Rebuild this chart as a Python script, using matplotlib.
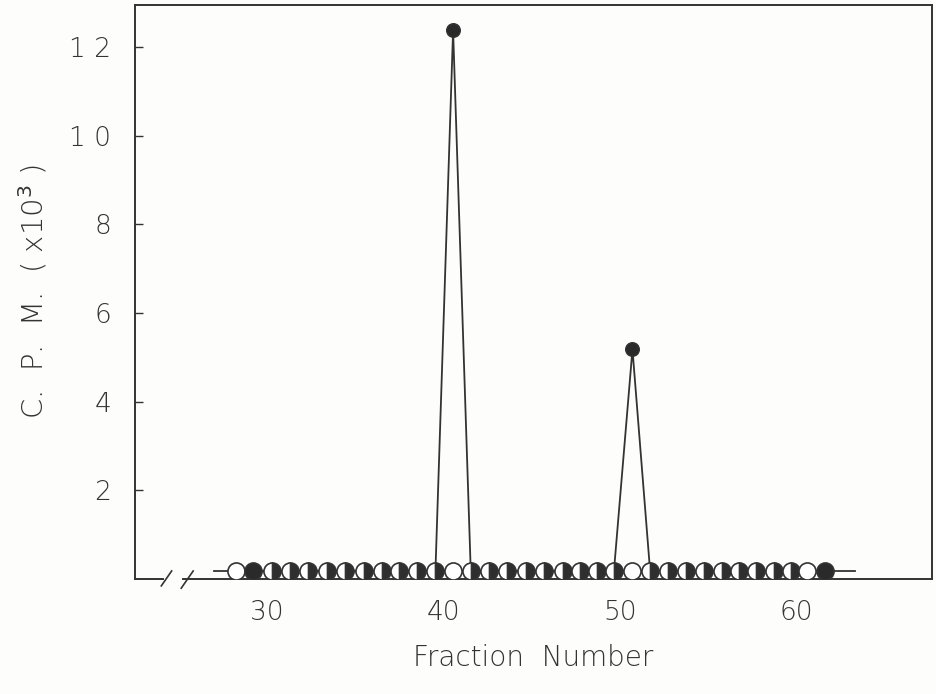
import numpy as np
import matplotlib
matplotlib.use("Agg")
import matplotlib.pyplot as plt

# fraction positions (one circle per fraction)
fractions = [28.25, 29.25, 30.3, 31.3, 32.35, 33.4, 34.45, 35.5, 36.5, 37.5,
             38.5, 39.55, 40.55, 41.55, 42.6, 43.6, 44.65, 45.7, 46.75, 47.75,
             48.7, 49.65, 50.7, 51.7, 52.7, 53.75, 54.75, 55.75, 56.75, 57.7,
             58.7, 59.65, 60.6, 61.6]
# counts (x10^3) of the traced series, two peaks
cpm = [0.17] * len(fractions)
cpm[12] = 12.38
cpm[22] = 5.18
baseline = 0.17
# marker look at each baseline position
kinds = ['open', 'full'] + ['half'] * 10 + ['open'] + ['half'] * 9 + ['open'] \
        + ['half'] * 9 + ['open', 'full']
baseline_span = [27.0, 63.3]

YTICKS = [2, 4, 6, 8, 10, 12]
YTICK_LABELS = ["2", "4", "6", "8", "1 0", "1 2"]
XTICKS = [30, 40, 50, 60]

INK = "#333333"
plt.rcParams['font.family'] = ['DejaVu Sans']

fig = plt.figure(figsize=(9.36, 6.94), dpi=100)
fig.patch.set_facecolor("#fdfdfb")
ax = fig.add_axes([135/936, 1 - 579/694, (932-135)/936, (579-5)/694])
ax.set_facecolor("#fdfdfb")

ax.set_xlim(22.55, 67.65)
ax.set_ylim(0, 12.95)

# baseline line and peak trace
ax.plot(baseline_span, [baseline, baseline], color=INK, lw=1.3, zorder=2)
ax.plot(fractions, cpm, color=INK, lw=1.3, zorder=2)

for x, k in zip(fractions, kinds):
    if k == 'open':
        ax.plot(x, baseline, 'o', ms=12.3, mfc='white', mec=INK, mew=1.2, zorder=3)
    elif k == 'full':
        ax.plot(x, baseline, 'o', ms=12.3, mfc='#2a2a2a', mec=INK, mew=1.2, zorder=3)
    else:
        ax.plot(x, baseline, 'o', ms=12.3, fillstyle='right', mfc='#2e2e2e',
                markerfacecoloralt='white', mec=INK, mew=1.2, zorder=3)

peaks = [(x, y) for x, y in zip(fractions, cpm) if y > 1]
ax.plot([p[0] for p in peaks], [p[1] for p in peaks], 'o', ms=9.8,
        color='#2a2a2a', mec=INK, zorder=4)

# spines: bottom is broken near the left
for s in ['top', 'right', 'left']:
    ax.spines[s].set_color(INK)
    ax.spines[s].set_linewidth(1.4)
ax.spines['bottom'].set_visible(False)
tr = ax.transAxes
ax.plot([0, 0.035], [0, 0], color=INK, lw=1.4, transform=tr, clip_on=False)
ax.plot([0.06, 1], [0, 0], color=INK, lw=1.4, transform=tr, clip_on=False)
ax.plot([0.033, 0.046], [-0.012, 0.014], color=INK, lw=1.2, transform=tr, clip_on=False)
ax.plot([0.058, 0.073], [-0.016, 0.014], color=INK, lw=1.2, transform=tr, clip_on=False)

ax.set_yticks(YTICKS)
ax.set_yticklabels(YTICK_LABELS)
ax.set_xticks(XTICKS)
ax.tick_params(axis='y', direction='in', length=6, width=1.0, color=INK,
               pad=17, labelsize=19, labelcolor=INK)
ax.tick_params(axis='x', length=0, pad=15, labelsize=19, labelcolor=INK)
for t in ax.get_xticklabels() + ax.get_yticklabels():
    t.set_fontweight('light')

ax.set_xlabel("Fraction  Number", fontsize=20, color=INK, labelpad=14, fontweight='light')
ax.set_ylabel("C.  P.  M.  ( x10$^{3}$ )", fontsize=21, color=INK, labelpad=14,
              fontweight='light')

fig.savefig("out.png", dpi=100, facecolor=fig.get_facecolor())
